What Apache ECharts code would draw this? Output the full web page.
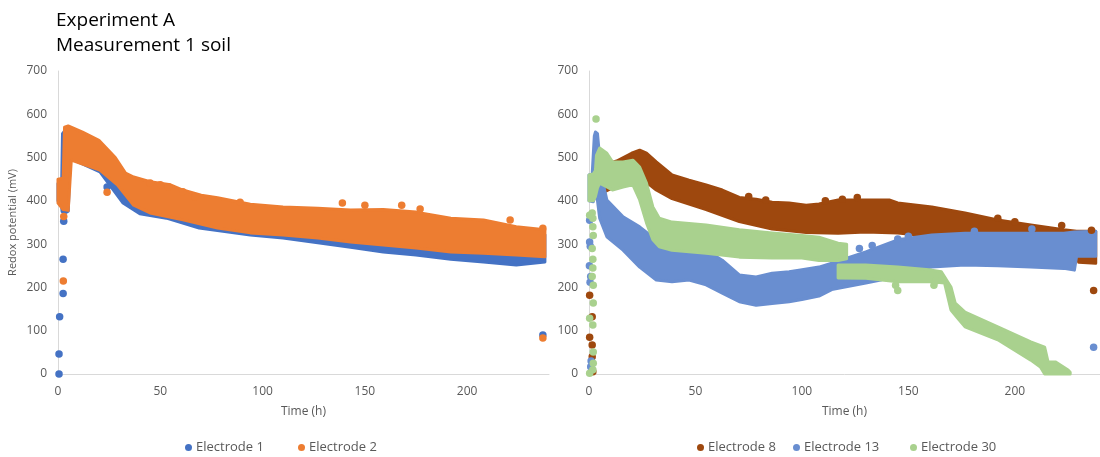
<!DOCTYPE html>
<html>
<head>
<meta charset="utf-8">
<script src="https://cdn.jsdelivr.net/npm/echarts@6/dist/echarts.min.js"></script>
<style>
  html, body { margin: 0; padding: 0; background: #fff; }
  #chart { width: 1100px; height: 457px; }
</style>
</head>
<body>
<div id="chart"></div>
<script>
// Axis ticks
const xTicks = [0, 50, 100, 150, 200];
const yTicks = [0, 100, 200, 300, 400, 500, 600, 700];

// Electrode 1: upper / lower envelope of the measured band [time h, mV]
const e1Upper = [[0,440],[1.8,442],[2.2,555],[3,560],[4.5,545],[12,545],[20,528],[28,488],[33,452],[45,432],[61,413],[78,396],[94,380],[110,374],[127,371],[143,367],[159,368],[175,362],[192,348],[208,344],[224,328],[238,322]];
const e1Lower = [[0,400],[1.5,400],[2,375],[3.5,372],[5,376],[6,498],[20.5,467],[31.8,395],[40,370],[53,360],[69,337],[94,321],[110,314],[127,303],[143,293],[159,282],[175,275],[192,265],[208,259],[224,252],[238,259]];
const e1Points = [[0.5,0],[0.5,46],[0.8,132],[2.5,186],[2.5,265],[2.8,353],[24,432],[237,90]];

// Electrode 2
const e2Upper = [[0,450],[2.5,452],[3.2,570],[5,573],[12,559],[20,540],[28,500],[33,464],[37,455],[45,444],[55,437],[61,425],[70,413],[78,407],[94,392],[110,386],[127,383],[143,379],[159,380],[175,374],[192,360],[208,356],[224,340],[238,333]];
const e2Lower = [[0,395],[2.5,380],[5,378],[6.5,494],[12,485],[20.5,471],[29,437],[37,390],[45,372],[61,356],[78,337],[94,326],[110,321],[127,314],[143,305],[159,298],[175,291],[192,282],[208,279],[224,275],[238,271]];
const e2Points = [[2.6,215],[2.8,364],[24,420],[45,441],[50,437],[54,432],[61,421],[67,409],[89,397],[139,395],[150,390],[168,390],[177,381],[221,356],[237,337],[237,83]];

// Electrode 8
const e8Upper = [[4,470],[6,480],[13,492],[20,510],[23.8,517],[27,510],[31.6,490],[39,460],[47,448],[55,437],[62.6,425],[70.6,408],[78.5,404],[86,397],[94,395],[102,390],[108,393],[117,402],[130,402],[141,402],[145,395],[161,386],[176.6,372],[192,356],[207.5,344],[223,333],[229,330],[238,330]];
const e8Lower = [[4,418],[6,418],[15,440],[23.8,450],[28.5,437],[31.6,425],[39,405],[55,380],[70.6,352],[86,335],[102,327],[117,325],[130,328],[145,326],[161,318],[176.6,315],[192,313],[207.5,312],[223,312],[228,305],[230,258],[238,256]];
const e8Points = [[0.3,182],[1.5,132],[0.3,85],[1.5,67],[1.5,40],[1.8,5],[75,410],[83,402],[111,400],[119,404],[126,408],[192,360],[200,352],[222,343],[236,332],[237,193]];

// Electrode 13
const e13Upper = [[0,460],[1.5,462],[2.5,550],[3,559],[4,555],[5,500],[6,455],[8.4,402],[16,363],[23.8,340],[31.6,310],[39,286],[47,279],[55,286],[62.6,263],[70.6,229],[78.5,224],[86,233],[94,236],[98.6,240],[108,247],[114,256],[130,282],[145,310],[161,321],[176.6,325],[192,325],[207.5,325],[223,325],[228,328],[238,330]];
const e13Lower = [[0,400],[2,398],[3.5,420],[5,360],[8.4,317],[16,286],[23.8,247],[31.6,217],[39,213],[47,217],[55,206],[62.6,187],[70.6,167],[78.5,159],[86,163],[94,167],[100,172],[108,180],[114,195],[130,210],[137,217],[145,233],[161,247],[176.6,252],[192,250],[207.5,247],[223,244],[228,240],[229,272],[238,272]];
const e13Points = [[0.3,355],[0.3,305],[0.6,295],[0.2,250],[0.8,225],[0.5,212],[1,30],[0.8,17],[127,290],[133,297],[145,312],[150,318],[181,330],[208,335],[237,62]];

// Electrode 30: two overlapping stretches of the record
const e30UpperA = [[0,460],[2,462],[3,470],[3.5,505],[5,522],[8.4,510],[11,490],[16,490],[20.6,494],[23.8,478],[27,441],[30,386],[33,360],[39,351],[55,344],[70.6,333],[86,326],[100,320],[108,316],[117,302],[121,300]];
const e30LowerA = [[0,400],[2,400],[3,410],[4,430],[5,441],[8.4,432],[11,425],[16,432],[20.6,437],[23.8,402],[27,349],[30,310],[33,294],[39,286],[55,279],[70.6,270],[86,268],[100,268],[108,262],[117,262],[121,266]];
const e30UpperB = [[117,252],[130,252],[145,247],[161,240],[165.5,236],[170,201],[172,164],[176.6,143],[192,109],[207.5,74],[214,62],[215.6,28],[219,28],[225,9],[226,4]];
const e30LowerB = [[117,222],[130,221],[145,213],[161,213],[167,210],[170,148],[173.8,125],[176.6,109],[192,79],[207.5,32],[212,16],[214,0],[226,0]];
const e30Points = [[3.3,589],[0.3,367],[1.5,372],[1.8,360],[1.8,340],[2,320],[1.5,290],[1.8,265],[1.8,245],[1.5,225],[2,205],[2,164],[0.3,129],[1.8,113],[2,51],[2,25],[0.3,2],[1.8,10],[144,205],[145,193],[162,205],[163,215]];

const FONT = 'Open Sans';
const AXIS_COLOR = '#D9D9D9';
const LABEL_COLOR = '#595959';

// A measured band drawn as a filled polygon between its upper and lower envelope
function bandSeries(name, color, bands, axisIdx) {
  return {
    type: 'custom',
    name: name,
    xAxisIndex: axisIdx,
    yAxisIndex: axisIdx,
    data: bands.map((b, i) => [i]),
    itemStyle: { color: color },
    renderItem: function (params, api) {
      const band = bands[params.dataIndex];
      const pts = band.upper.map(p => api.coord(p))
        .concat(band.lower.slice().reverse().map(p => api.coord(p)));
      return {
        type: 'polygon',
        shape: { points: pts },
        style: { fill: color, stroke: color, lineWidth: 3, lineJoin: 'round' }
      };
    },
    silent: true
  };
}

function pointSeries(name, color, points, axisIdx) {
  return {
    type: 'scatter',
    name: name,
    xAxisIndex: axisIdx,
    yAxisIndex: axisIdx,
    data: points,
    symbol: 'circle',
    symbolSize: 7.5,
    itemStyle: { color: color, opacity: 1 },
    silent: true
  };
}

function xAxis(gridIndex) {
  return {
    type: 'value', gridIndex: gridIndex, min: 0, max: 240, interval: 50,
    name: 'Time (h)', nameLocation: 'middle', nameGap: 32,
    nameTextStyle: { fontFamily: FONT, fontSize: 12, color: LABEL_COLOR },
    axisLine: { show: true, lineStyle: { color: AXIS_COLOR, width: 1 } },
    axisTick: { show: false },
    splitLine: { show: false },
    axisLabel: { fontFamily: FONT, fontSize: 12, color: LABEL_COLOR, margin: 12, showMaxLabel: false,
      formatter: v => (xTicks.indexOf(v) >= 0 ? String(v) : '') }
  };
}

function yAxis(gridIndex, withName) {
  const ax = {
    type: 'value', gridIndex: gridIndex, min: 0, max: 700, interval: 100,
    axisLine: { show: true, lineStyle: { color: AXIS_COLOR, width: 1 } },
    axisTick: { show: false },
    splitLine: { show: false },
    axisLabel: { fontFamily: FONT, fontSize: 12, color: LABEL_COLOR, margin: 11,
      formatter: v => (yTicks.indexOf(v) >= 0 ? String(v) : '') }
  };
  if (withName) {
    ax.name = 'Redox potential (mV)';
    ax.nameLocation = 'middle';
    ax.nameGap = 40;
    ax.nameTextStyle = { fontFamily: FONT, fontSize: 11, color: LABEL_COLOR };
  }
  return ax;
}

// One legend entry, placed at its own position along the bottom
function legendItem(name, left) {
  return {
    data: [name], left: left, top: 441, icon: 'circle', padding: 0,
    itemWidth: 7, itemHeight: 7, itemGap: 0,
    textStyle: { fontFamily: FONT, fontSize: 13, color: LABEL_COLOR, padding: [0, 0, 0, -1] }
  };
}

const C1 = '#4472C4', C2 = '#ED7D31', C8 = '#9E480E', C13 = '#698ED0', C30 = '#A9D18E';

const option = {
  animation: false,
  backgroundColor: '#ffffff',
  title: {
    text: 'Experiment A\nMeasurement 1 soil',
    left: 56, top: 8, padding: 0,
    textStyle: { fontFamily: FONT, fontSize: 19, fontWeight: 'normal', color: '#000000', lineHeight: 25 }
  },
  grid: [
    { left: 58, top: 71, width: 491, height: 303 },
    { left: 589, top: 71, width: 514, height: 303 }
  ],
  xAxis: [xAxis(0), xAxis(1)],
  yAxis: [yAxis(0, true), yAxis(1, false)],
  legend: [
    legendItem('Electrode 1', 185),
    legendItem('Electrode 2', 298),
    legendItem('Electrode 8', 697),
    legendItem('Electrode 13', 793),
    legendItem('Electrode 30', 910)
  ],
  series: [
    bandSeries('Electrode 1', C1, [{ upper: e1Upper, lower: e1Lower }], 0),
    pointSeries('Electrode 1', C1, e1Points, 0),
    bandSeries('Electrode 2', C2, [{ upper: e2Upper, lower: e2Lower }], 0),
    pointSeries('Electrode 2', C2, e2Points, 0),
    bandSeries('Electrode 8', C8, [{ upper: e8Upper, lower: e8Lower }], 1),
    pointSeries('Electrode 8', C8, e8Points, 1),
    bandSeries('Electrode 13', C13, [{ upper: e13Upper, lower: e13Lower }], 1),
    pointSeries('Electrode 13', C13, e13Points, 1),
    bandSeries('Electrode 30', C30, [{ upper: e30UpperA, lower: e30LowerA }, { upper: e30UpperB, lower: e30LowerB }], 1),
    pointSeries('Electrode 30', C30, e30Points, 1)
  ]
};

const chart = echarts.init(document.getElementById('chart'), null, { renderer: 'canvas' });
chart.setOption(option);
</script>
</body>
</html>
